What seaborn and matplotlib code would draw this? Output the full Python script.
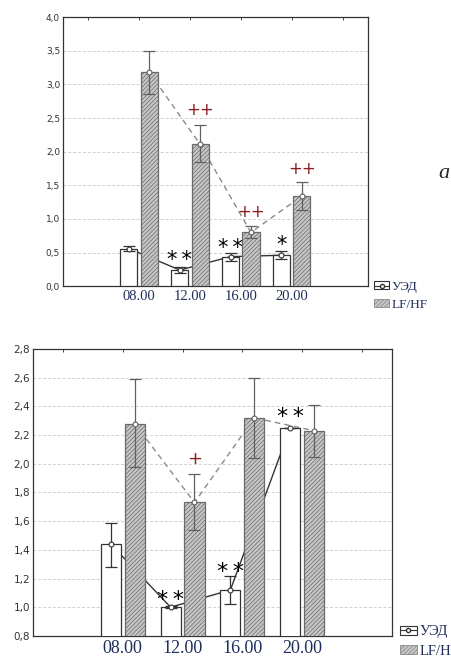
import numpy as np
import pandas as pd
import seaborn as sns
import matplotlib.pyplot as plt
from matplotlib.patches import Patch
from matplotlib.lines import Line2D
from matplotlib.legend_handler import HandlerTuple

times = ["08.00", "12.00", "16.00", "20.00"]
order = ["", "08.00", "12.00", "16.00", "20.00", " "]
series = ["УЭД", "LF/HF"]

two = "*\u2009*"

# panel a
ued_a = [0.56, 0.24, 0.44, 0.46]
ued_a_err = [0.04, 0.04, 0.06, 0.06]
lfhf_a = [3.18, 2.11, 0.80, 1.34]
lfhf_a_lo = [0.32, 0.27, 0.09, 0.20]
lfhf_a_hi = [0.31, 0.28, 0.10, 0.21]
marks_a = [("12.00", 0, 0.47, two), ("16.00", 0, 0.65, two), ("20.00", 0, 0.69, "*"),
           ("12.00", 1, 2.62, "++"), ("16.00", 1, 1.11, "++"), ("20.00", 1, 1.75, "++")]

# panel b
ued_b = [1.44, 1.00, 1.12, 2.25]
ued_b_lo = [0.16, 0.005, 0.10, 0.0]
ued_b_hi = [0.15, 0.005, 0.10, 0.0]
lfhf_b = [2.28, 1.73, 2.32, 2.23]
lfhf_b_lo = [0.30, 0.19, 0.28, 0.18]
lfhf_b_hi = [0.31, 0.20, 0.28, 0.18]
marks_b = [("12.00", 0, 1.09, two), ("16.00", 0, 1.285, two), ("20.00", 0, 2.365, two),
           ("12.00", 1, 2.03, "+")]

navy = "#1f2d5c"
sns.set_style("white")
plt.rcParams["hatch.linewidth"] = 0.5
plt.rcParams["hatch.color"] = "#8c8c8c"


def panel(ax, ued, ued_lo, ued_hi, lf, lf_lo, lf_hi, marks, ylim, step, xfs, yfs, sfs):
    df = pd.DataFrame({
        "time": times * 2,
        "value": ued + lf,
        "series": [series[0]] * 4 + [series[1]] * 4,
    })
    sns.barplot(df, x="time", y="value", hue="series", order=order,
                hue_order=series, errorbar=None, width=0.8, gap=0.16,
                palette=["white", "#c6c6c6"], edgecolor="#333333",
                linewidth=0.9, legend=False, ax=ax, zorder=3)
    lows = [ued_lo, lf_lo]
    highs = [ued_hi, lf_hi]
    vals = [ued, lf]
    centers = []
    bar_conts = list(ax.containers)
    for k, cont in enumerate(bar_conts):
        bars = [b for b in cont if b is not None]
        if k == 1:
            for b in bars:
                b.set_hatch("////////")
                b.set_edgecolor("#6a6a6a")
        xs = [b.get_x() + b.get_width() / 2 for b in bars]
        w = bars[0].get_width()
        centers.append(xs)
        ls = "-" if k == 0 else (0, (4, 3))
        col = "#333333" if k == 0 else "#8a8a8a"
        ecol = "#333333" if k == 0 else "#606060"
        ax.plot(xs, vals[k], ls=ls, color=col, lw=1.0, zorder=2)
        ax.errorbar(xs, vals[k], yerr=[lows[k], highs[k]], fmt="none",
                    ecolor=ecol, elinewidth=0.9, capsize=w * 13,
                    capthick=0.9, zorder=4)
        ax.plot(xs, vals[k], "o", ms=3.5, mfc="white", mec=ecol,
                mew=0.8, zorder=5)
    for t, k, y, s in marks:
        x = centers[k][times.index(t)]
        if s.startswith("+"):
            ax.text(x, y, s, ha="center", va="center", color="#8a1f1f",
                    fontsize=sfs, family="DejaVu Sans", zorder=6)
        else:
            fs = sfs + 3
            ax.annotate(s, (x, y), xytext=(0, -0.53 * fs),
                        textcoords="offset points", ha="center",
                        va="baseline", color="black", fontsize=fs,
                        family="DejaVu Sans", zorder=6)
    ax.set_xlim(-0.5, 5.5)
    ax.set_ylim(*ylim)
    ticks = np.arange(ylim[0], ylim[1] + step / 2, step)
    ax.set_yticks(ticks)
    ax.set_yticklabels([f"{t:.1f}".replace(".", ",") for t in ticks],
                       fontsize=yfs, color="#333333")
    ax.set_xticks(range(6))
    ax.set_xticklabels(order, fontsize=xfs, color=navy,
                       family="Liberation Serif")
    ax.set(xlabel="", ylabel="")
    ax.yaxis.grid(True, ls=(0, (3, 2)), color="#cfcfcf", lw=0.7, zorder=0)
    ax.set_axisbelow(True)
    ax.tick_params(axis="x", top=True, direction="in", length=2, pad=3,
                   width=0.6)
    ax.tick_params(axis="y", direction="in", length=2, pad=2, width=0.6)
    for sp in ax.spines.values():
        sp.set_color("#333333")
        sp.set_linewidth(0.9)


fig = plt.figure(figsize=(4.52, 6.61), dpi=100)
ax1 = fig.add_axes([0.139, 0.567, 0.675, 0.407])
ax2 = fig.add_axes([0.073, 0.038, 0.794, 0.434])

panel(ax1, ued_a, ued_a_err, ued_a_err, lfhf_a, lfhf_a_lo, lfhf_a_hi,
      marks_a, (0.0, 4.0), 0.5, 10.5, 6.5, 12)
panel(ax2, ued_b, ued_b_lo, ued_b_hi, lfhf_b, lfhf_b_lo, lfhf_b_hi,
      marks_b, (0.8, 2.8), 0.2, 13, 7.5, 13)

handles = [
    (Patch(facecolor="white", edgecolor="#333333", lw=0.8),
     Line2D([], [], marker="o", ms=3, mfc="white", mec="#333333", lw=0.8,
            color="#333333")),
    Patch(facecolor="#c6c6c6", edgecolor="#888888", hatch="////////", lw=0.6),
]
for bx, by, fs in [(0.828, 0.575, 9.5), (0.886, 0.054, 10.5)]:
    fig.legend(handles, series, loc="upper left", bbox_to_anchor=(bx, by),
               frameon=False, handlelength=1.1,
               handleheight=0.6, handletextpad=0.2, labelspacing=0.45,
               borderpad=0, borderaxespad=0,
               handler_map={tuple: HandlerTuple(ndivide=1)},
               prop={"family": "Liberation Serif", "size": fs},
               labelcolor=navy)

fig.text(0.982, 0.738, "a", style="italic", fontsize=16,
         family="Liberation Serif", ha="center", va="center")

plt.savefig("out.png", dpi=100)
